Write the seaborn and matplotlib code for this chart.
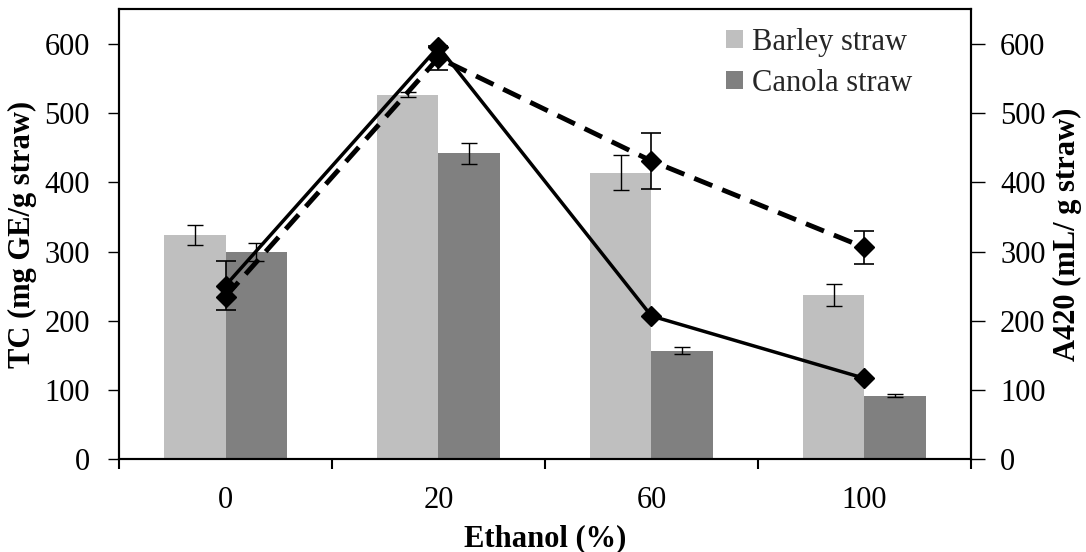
import numpy as np
import pandas as pd
import matplotlib
matplotlib.use("Agg")
import matplotlib.pyplot as plt
import seaborn as sns

# data
ethanol = ["0", "20", "60", "100"]
barley_tc = [324, 527, 414, 237]
barley_err = [14, 3, 25, 16]
canola_tc = [299, 442, 157, 92]
canola_err = [13, 15, 5, 2]
a420_solid = [251, 596, 207, 117]
a420_solid_err = [35, 0, 0, 0]
a420_dashed = [235, 580, 431, 306]
a420_dashed_err = [0, 17, 40, 24]

sns.set_theme(style="ticks")
plt.rcParams["font.family"] = ["Liberation Serif", "DejaVu Serif"]
fs = 22

df = pd.DataFrame({
    "Ethanol": ethanol * 2,
    "TC": barley_tc + canola_tc,
    "err": barley_err + canola_err,
    "Straw": ["Barley straw"] * 4 + ["Canola straw"] * 4,
})

fig, ax = plt.subplots(figsize=(10.86, 5.52), dpi=100)
fig.subplots_adjust(left=0.1096, right=0.894, top=0.983, bottom=0.168)

sns.barplot(data=df, x="Ethanol", y="TC", hue="Straw", order=ethanol,
            palette=["#bfbfbf", "#808080"], width=0.575, saturation=1,
            errorbar=None, ax=ax, linewidth=0)

# error bars on the bars
for i, (name, grp) in enumerate(df.groupby("Straw", sort=False)):
    bars = ax.containers[i]
    xs = [b.get_x() + b.get_width() / 2 for b in bars]
    ax.errorbar(xs, grp["TC"], yerr=grp["err"], fmt="none", ecolor="black",
                elinewidth=1, capsize=6, capthick=1)

ax.set_xlim(-0.5, 3.5)
ax.set_ylim(0, 650)
ax.set_yticks(range(0, 601, 100))
ax.set_xticks(range(4))
ax.set_xticklabels(ethanol)
ax.set_xticks(np.arange(-0.5, 3.6, 1), minor=True)
ax.tick_params(axis="x", which="major", length=0, pad=19, labelsize=fs, colors="black")
ax.tick_params(axis="x", which="minor", length=7, width=1.5, direction="out", color="black")
ax.tick_params(axis="y", length=8, width=1, pad=13, labelsize=fs, colors="black")
ax.set_xlabel("Ethanol (%)", fontsize=fs, fontweight="bold", labelpad=7, color="black")
ax.set_ylabel("TC (mg GE/g straw)", fontsize=fs, fontweight="bold", labelpad=5, color="black")
for s in ax.spines.values():
    s.set_color("black")
    s.set_linewidth(1.5)

leg = ax.legend(loc="upper right", bbox_to_anchor=(0.953, 1.0), frameon=False,
                fontsize=fs, handlelength=0.55, handleheight=0.55, handletextpad=0.3,
                labelspacing=0.4, borderaxespad=0.2)

# A420 lines on the secondary axis
ax2 = ax.twinx()
xs = np.arange(4)
ax2.plot(xs, a420_solid, color="black", lw=2.5, marker="D", markersize=10, zorder=3)
ax2.errorbar(xs[:1], a420_solid[:1], yerr=a420_solid_err[:1], fmt="none",
             ecolor="black", elinewidth=1.2, capsize=7, capthick=1.2)
ax2.plot(xs, a420_dashed, color="black", lw=3.5, ls=(0, (4, 2.2)), marker="D",
         markersize=10, zorder=3)
ax2.errorbar(xs[1:], a420_dashed[1:], yerr=a420_dashed_err[1:], fmt="none",
             ecolor="black", elinewidth=1.2, capsize=7, capthick=1.2)
ax2.set_ylim(0, 650)
ax2.set_yticks(range(0, 601, 100))
ax2.tick_params(axis="y", length=10, width=1, pad=11, labelsize=fs, colors="black")
ax2.set_ylabel("A420 (mL/ g straw)", fontsize=fs, fontweight="bold", labelpad=5, color="black")
for s in ax2.spines.values():
    s.set_color("black")
    s.set_linewidth(1.5)

fig.savefig("out.png", dpi=100)
